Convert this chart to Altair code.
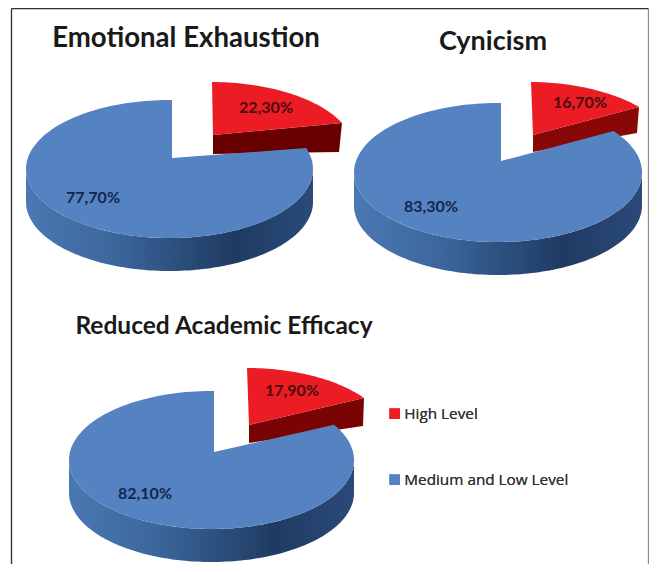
import math
import altair as alt
import pandas as pd

# --- values ---
panels = ["Emotional Exhaustion", "Cynicism", "Reduced Academic Efficacy"]
high_share = [22.3, 16.7, 17.9]
medium_low_share = [77.7, 83.3, 82.1]
levels = ["High Level", "Medium and Low Level"]
level_colors = ["#ec1c24", "#5583c1"]

# --- drawing geometry of the tilted pies (image pixels) ---
geometry = [
    dict(cx=169.5, cy=169, rx=143.5, ry=69, depth=33,
         apex=(172, 158), start_x=172, end=(307, 148),
         r_apex=(213, 135), r_start=(212, 82), r_tip=(342, 123), r_apex_b=(213, 154), r_tip_b=(339, 152),
         title=(186, 39, 27.6), hi_lab=(266, 108), lo_lab=(93, 198), side="#680000"),
    dict(cx=498, cy=172.5, rx=144, ry=69.5, depth=33,
         apex=(501, 161), start_x=501, end=(614, 131),
         r_apex=(533, 135), r_start=(531, 82), r_tip=(639, 107), r_apex_b=(533, 152), r_tip_b=(637, 133),
         title=(493, 42, 27), hi_lab=(580, 103), lo_lab=(431, 207), side="#880808"),
    dict(cx=211.5, cy=460, rx=142.5, ry=69, depth=33,
         apex=(214, 452), start_x=214, end=(337, 424),
         r_apex=(249, 425), r_start=(247, 368), r_tip=(364, 398), r_apex_b=(249, 443), r_tip_b=(363, 426),
         title=(224, 327, 24.5), hi_lab=(292, 391), lo_lab=(145, 494), side="#7a0404"),
]

X = alt.X("x:Q", scale=alt.Scale(domain=[8, 649]), axis=None)
Y = alt.Y("y:Q", scale=alt.Scale(domain=[564, 8]), axis=None)
COLOR = alt.Color("level:N", scale=alt.Scale(domain=levels, range=level_colors),
                  legend=alt.Legend(orient="none", legendX=379, legendY=398, title=None,
                                    symbolType="square", symbolSize=110, symbolStrokeWidth=0,
                                    labelFont="Open Sans", labelFontSize=15.3, labelColor="#333333",
                                    labelLimit=260, labelOffset=2, rowPadding=50, padding=0))


def arc_through(p, q, rx, ry, n=40):
    """Points on an ellipse of radii rx, ry from p clockwise to q."""
    ux, uy = p[0] / rx, p[1] / ry
    vx, vy = q[0] / rx, q[1] / ry
    mx, my = (ux + vx) / 2, (uy + vy) / 2
    dx, dy = vx - ux, vy - uy
    d = math.hypot(dx, dy)
    h = math.sqrt(max(1 - (d / 2) ** 2, 0))
    # centre lies below the chord (larger y in image coordinates)
    nx, ny = -dy / d, dx / d
    if ny < 0:
        nx, ny = -nx, -ny
    c = (mx + nx * h, my + ny * h)
    a0 = math.atan2(uy - c[1], ux - c[0])
    a1 = math.atan2(vy - c[1], vx - c[0])
    while a1 < a0:
        a1 += 2 * math.pi
    return [((c[0] + math.cos(a0 + (a1 - a0) * i / n)) * rx,
             (c[1] + math.sin(a0 + (a1 - a0) * i / n)) * ry) for i in range(n + 1)]


red_top, red_side, blue_top, blue_side = [], [], [], []
hi_labels, lo_labels, titles = [], [], []
for k, g in enumerate(geometry):
    # red slice
    pts = [g["r_apex"]] + arc_through(g["r_start"], g["r_tip"], g["rx"], g["ry"]) + [g["r_apex"]]
    red_top += [dict(panel=k, o=i, x=p[0], y=p[1], level=levels[0]) for i, p in enumerate(pts)]
    face = [g["r_apex"], g["r_tip"], g["r_tip_b"], g["r_apex_b"], g["r_apex"]]
    red_side.append((k, face, g["side"]))
    # blue slice
    t0 = math.acos((g["start_x"] - g["cx"]) / g["rx"])
    t1 = math.atan2((g["cy"] - g["end"][1]) / g["ry"], (g["end"][0] - g["cx"]) / g["rx"]) + 2 * math.pi
    pts = [g["apex"]]
    n = 160
    for i in range(n + 1):
        t = t0 + (t1 - t0) * i / n
        pts.append((g["cx"] + g["rx"] * math.cos(t), g["cy"] - g["ry"] * math.sin(t)))
    pts.append(g["apex"])
    blue_top += [dict(panel=k, o=i, x=p[0], y=p[1], level=levels[1]) for i, p in enumerate(pts)]
    for i in range(121):
        t = math.pi + math.pi * i / 120
        px = g["cx"] + g["rx"] * math.cos(t)
        py = g["cy"] - g["ry"] * math.sin(t)
        blue_side.append(dict(panel=k, x=px, y=py, y2=py + g["depth"]))
    # text
    titles.append(dict(x=g["title"][0], y=g["title"][1], size=g["title"][2], text=panels[k]))
    hi_labels.append(dict(x=g["hi_lab"][0], y=g["hi_lab"][1], text=f"{high_share[k]:.2f}".replace(".", ",") + "%"))
    lo_labels.append(dict(x=g["lo_lab"][0], y=g["lo_lab"][1], text=f"{medium_low_share[k]:.2f}".replace(".", ",") + "%"))

layers = []

# frame
frame = pd.DataFrame([
    dict(x=11.5, y=8.5, x2=11.5, y2=564, c="#2e2e2e"),
    dict(x=11.5, y=8.5, x2=648.5, y2=8.5, c="#2e2e2e"),
    dict(x=648.5, y=8.5, x2=648.5, y2=564, c="#8a8a8a"),
])
layers.append(alt.Chart(frame).mark_rule(strokeWidth=1.3).encode(
    x=X, y=Y, x2="x2:Q", y2="y2:Q", color=alt.Color("c:N", scale=None, legend=None)))

# red side faces
for k, face, col in red_side:
    df = pd.DataFrame([dict(o=i, x=p[0], y=p[1]) for i, p in enumerate(face)])
    layers.append(alt.Chart(df).mark_line(filled=True, color=col, strokeWidth=0).encode(
        x=X, y=Y, order="o:Q"))

# red top faces
layers.append(alt.Chart(pd.DataFrame(red_top)).mark_line(filled=True, strokeWidth=0).encode(
    x=X, y=Y, order="o:Q", detail="panel:N", color=COLOR))

# blue wall
blue_grad = alt.LinearGradient(gradient="linear", x1=0, x2=1, y1=0, y2=0, stops=[
    alt.GradientStop(offset=0, color="#4a78b2"),
    alt.GradientStop(offset=0.3, color="#3c679d"),
    alt.GradientStop(offset=0.72, color="#1f3b63"),
    alt.GradientStop(offset=1, color="#2a4a78"),
])
layers.append(alt.Chart(pd.DataFrame(blue_side)).mark_area(color=blue_grad).encode(
    x=X, y=Y, y2="y2:Q", detail="panel:N"))

# blue top faces
layers.append(alt.Chart(pd.DataFrame(blue_top)).mark_line(filled=True, strokeWidth=0).encode(
    x=X, y=Y, order="o:Q", detail="panel:N", color=COLOR))

# titles and value labels
layers.append(alt.Chart(pd.DataFrame(titles)).mark_text(
    font="Lato", fontWeight="bold", color="#1a1a1a", align="center", baseline="middle").encode(
    x=X, y=Y, text="text:N", size=alt.Size("size:Q", scale=None, legend=None)))
layers.append(alt.Chart(pd.DataFrame(hi_labels)).mark_text(
    font="Lato", fontWeight="bold", fontSize=16, color="#4a0a10", align="center", baseline="middle").encode(
    x=X, y=Y, text="text:N"))
layers.append(alt.Chart(pd.DataFrame(lo_labels)).mark_text(
    font="Lato", fontWeight="bold", fontSize=16, color="#12264d", align="center", baseline="middle").encode(
    x=X, y=Y, text="text:N"))

chart = alt.layer(*layers).resolve_scale(color="independent").properties(
    width=641, height=556, padding=0, autosize=alt.AutoSizeParams(type="none"),
    background="#ffffff",
).configure_view(stroke=None)

chart.save("out.html", embed_options={"renderer": "svg", "actions": False})
